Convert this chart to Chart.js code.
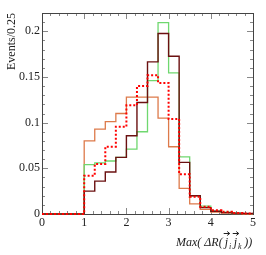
<!doctype html>
<html>
<head>
  <meta charset="utf-8">
  <script src="https://cdn.jsdelivr.net/npm/chart.js@4.4.0/dist/chart.umd.min.js"></script>
  <style>
    html, body { margin: 0; padding: 0; background: #fff; }
    #wrap { width: 266px; height: 255px; }
  </style>
</head>
<body>
<div id="wrap"><canvas id="myChart" width="266" height="255"></canvas></div>
<script>
  // bin lower edges (width 0.25)
  var binLow = [0, 0.25, 0.5, 0.75, 1, 1.25, 1.5, 1.75, 2, 2.25, 2.5, 2.75, 3, 3.25, 3.5, 3.75, 4, 4.25, 4.5, 4.75];
  var binWidth = 0.25;

  var orangeVals = [0, 0, 0, 0, 0.080, 0.093, 0.101, 0.110, 0.128, 0.128, 0.128, 0.105, 0.0736, 0.028, 0.011, 0.005, 0.002, 0.001, 0.0005, 0];
  var greenVals  = [0, 0, 0, 0, 0.054, 0.056, 0.058, 0.062, 0.071, 0.090, 0.146, 0.2095, 0.1545, 0.0626, 0.020, 0.0087, 0.003, 0.002, 0.001, 0.0005];
  var darkVals   = [0, 0, 0, 0, 0.025, 0.036, 0.046, 0.062, 0.0856, 0.122, 0.1665, 0.1975, 0.1727, 0.0565, 0.020, 0.007, 0.003, 0.0015, 0.001, 0.0005];
  var redVals    = [0, 0, 0, 0, 0.042, 0.0546, 0.0736, 0.0955, 0.119, 0.140, 0.152, 0.1435, 0.104, 0.0434, 0.019, 0.008, 0.004, 0.0025, 0.001, 0.0005];

  var xTicks = [0, 1, 2, 3, 4, 5];
  var yTicks = [0, 0.05, 0.1, 0.15, 0.2];

  // one point per bin edge; the line runs flat over a bin then steps at the next edge
  function histPoints(vals) {
    var pts = binLow.map(function (x, i) { return { x: x, y: vals[i] }; });
    pts.push({ x: binLow[binLow.length - 1] + binWidth, y: vals[vals.length - 1] });
    return pts;
  }

  function histSet(vals, color, width, dash, order) {
    return {
      data: histPoints(vals),
      borderColor: color,
      backgroundColor: 'transparent',
      borderWidth: width,
      borderDash: dash,
      stepped: 'before',
      pointRadius: 0,
      fill: false,
      clip: false,
      order: order
    };
  }

  var serif = '"Liberation Serif", "DejaVu Serif", serif';

  // frame, inner ticks and axis titles (ROOT style), drawn under the histograms
  var frame = {
    id: 'frame',
    beforeDatasetsDraw: function (chart) {
      var c = chart.ctx, a = chart.chartArea;
      var xs = chart.scales.x, ys = chart.scales.y;
      c.save();
      c.strokeStyle = '#888';
      c.lineWidth = 1;
      c.beginPath();
      for (var v = 0; v <= 5.0001; v += 0.2) {
        var px = Math.round(xs.getPixelForValue(v)) + 0.5;
        var len = Math.abs(v - Math.round(v)) < 1e-6 ? 6 : 3;
        c.moveTo(px, a.bottom); c.lineTo(px, a.bottom - len);
        c.moveTo(px, a.top); c.lineTo(px, a.top + len);
      }
      for (var w = 0; w <= 0.2201; w += 0.01) {
        var py = Math.round(ys.getPixelForValue(w)) + 0.5;
        var l2 = Math.abs(w / 0.05 - Math.round(w / 0.05)) < 1e-6 ? 6 : 3;
        c.moveTo(a.left, py); c.lineTo(a.left + l2, py);
        c.moveTo(a.right, py); c.lineTo(a.right - l2, py);
      }
      c.stroke();
      c.strokeStyle = '#444';
      c.strokeRect(Math.round(a.left) + 0.5, Math.round(a.top) + 0.5,
                   Math.round(a.right - a.left), Math.round(a.bottom - a.top));

      c.fillStyle = '#222';
      // y title
      c.save();
      c.translate(12, a.top);
      c.rotate(-Math.PI / 2);
      c.font = '12px ' + serif;
      c.textAlign = 'right';
      c.textBaseline = 'middle';
      c.fillText('Events/0.25', 0, 0);
      c.restore();

      // x title: Max( ΔR(j⃗ᵢ j⃗ₖ))
      var base = 245.5, x = 176;
      c.font = 'italic 12px ' + serif;
      c.textBaseline = 'alphabetic';
      c.textAlign = 'left';
      c.fillText('Max( \u0394R(', x, base);
      x += c.measureText('Max( \u0394R(').width + 2;
      function vec(sub) {
        c.font = 'italic 12px ' + serif;
        c.fillText('j', x, base);
        var jw = c.measureText('j').width;
        c.beginPath();
        c.strokeStyle = '#222';
        c.lineWidth = 1;
        c.moveTo(x - 1, 233.5); c.lineTo(x + 5, 233.5);
        c.moveTo(x + 5, 233.5); c.lineTo(x + 2.5, 231.5);
        c.moveTo(x + 5, 233.5); c.lineTo(x + 2.5, 235.5);
        c.stroke();
        x += jw + 1;
        c.font = 'italic 8px ' + serif;
        c.fillText(sub, x, base + 3);
        x += c.measureText(sub).width + 2.5;
      }
      vec('i');
      vec('k');
      c.font = 'italic 12px ' + serif;
      c.fillText('))', x, base);
      c.restore();
    }
  };

  var ctx = document.getElementById('myChart').getContext('2d');
  var chart = new Chart(ctx, {
    type: 'line',
    data: {
      datasets: [
        histSet(redVals, '#ff0000', 2, [2, 2], 0),
        histSet(darkVals, '#6b1010', 1.4, [], 1),
        histSet(greenVals, '#6fd86f', 1.3, [], 2),
        histSet(orangeVals, '#dd7a4a', 1.3, [], 3)
      ]
    },
    options: {
      responsive: false,
      animation: false,
      layout: { padding: { top: 13, right: 13, left: 0, bottom: 0 } },
      plugins: { legend: { display: false }, tooltip: { enabled: false } },
      scales: {
        x: {
          type: 'linear', min: 0, max: 5,
          grid: { display: false, drawTicks: false },
          border: { display: false },
          afterBuildTicks: function (s) { s.ticks = xTicks.map(function (v) { return { value: v }; }); },
          ticks: { padding: 2, color: '#222', font: { family: serif, size: 12 }, maxRotation: 0,
                   callback: function (v) { return String(v); } },
          afterFit: function (s) { s.height = 41; }
        },
        y: {
          type: 'linear', min: 0, max: 0.22,
          grid: { display: false, drawTicks: false },
          border: { display: false },
          afterBuildTicks: function (s) { s.ticks = yTicks.map(function (v) { return { value: v }; }); },
          ticks: { padding: 2, color: '#222', font: { family: serif, size: 12 },
                   callback: function (v) { return String(Math.round(v * 100) / 100); } },
          afterFit: function (s) { s.width = 42; }
        }
      }
    },
    plugins: [frame]
  });
</script>
</body>
</html>
